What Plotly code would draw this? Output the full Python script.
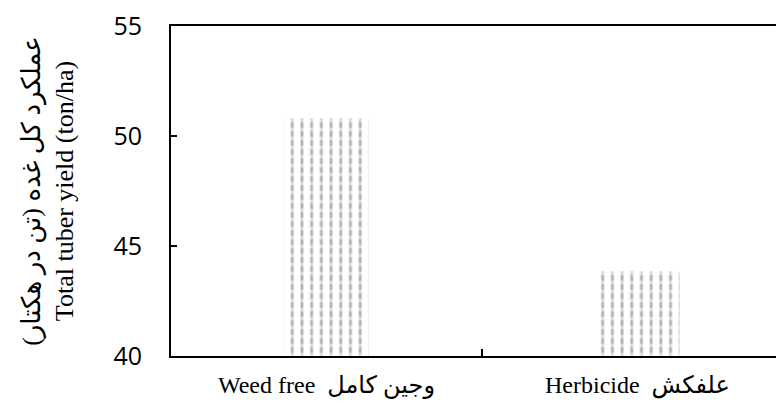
import plotly.graph_objects as go

categories = ["Weed free  وجین کامل", "Herbicide  علفکش"]
yield_values = [50.8, 43.84]
y_ticks = [40, 45, 50, 55]
y_base = 40

heights = [v - y_base for v in yield_values]

fig = go.Figure()
# vertical stripes
fig.add_trace(go.Bar(
    x=categories, y=heights, base=y_base,
    marker=dict(
        color="#666666",
        line=dict(width=0),
        pattern=dict(shape="|", fgcolor="#666666", bgcolor="white", size=9.7, solidity=0.3),
    ),
    hoverinfo="skip",
))
# white horizontal breaks to turn the stripes into dashes
fig.add_trace(go.Bar(
    x=categories, y=heights, base=y_base,
    marker=dict(
        color="rgba(0,0,0,0)",
        line=dict(width=0),
        pattern=dict(shape="-", fgcolor="white", bgcolor="rgba(0,0,0,0)", size=9, solidity=0.4),
    ),
    hoverinfo="skip",
))

fig.update_layout(
    width=784, height=403,
    margin=dict(l=163, r=0, t=16, b=55),
    paper_bgcolor="white", plot_bgcolor="white",
    barmode="overlay",
    bargap=0.73,
    showlegend=False,
    xaxis=dict(
        type="category",
        range=[-0.5, 1.497],
        showline=True, linecolor="black", linewidth=2,
        mirror=True,
        ticks="inside", ticklen=7, tickcolor="black", tickwidth=1.5,
        tickson="boundaries",
        tickfont=dict(family="Liberation Serif, DejaVu Sans", size=24, color="black"),
        ticklabelstandoff=6,
        showgrid=False,
    ),
    yaxis=dict(
        range=[40, 55.0001],
        tickvals=y_ticks,
        ticktext=[str(t) for t in y_ticks],
        ticklabeloverflow="allow",
        showline=True, linecolor="black", linewidth=2,
        ticks="inside", ticklen=6, tickcolor="black", tickwidth=1.5,
        tickfont=dict(family="Open Sans, DejaVu Sans", size=25, color="black"),
        ticklabelstandoff=22,
        showgrid=False, zeroline=False,
        title=dict(
            text="عملکرد کل غده (تن در هکتار)<br>Total tuber yield (ton/ha)",
            font=dict(family="Liberation Serif, DejaVu Sans", size=26, color="black"),
            standoff=32,
        ),
    ),
)

fig.write_html("out.html")
